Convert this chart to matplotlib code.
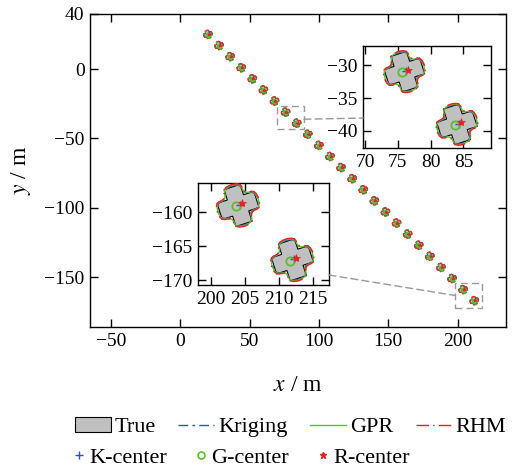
import numpy as np
import matplotlib
matplotlib.use("Agg")
import matplotlib.pyplot as plt
from matplotlib.path import Path
from matplotlib.patches import PathPatch, Polygon, Rectangle, ConnectionPatch
from matplotlib.lines import Line2D
from matplotlib.transforms import Affine2D

plt.rcParams['font.family'] = ['Liberation Serif', 'DejaVu Serif']
plt.rcParams['mathtext.fontset'] = 'stix'

# ---------------- data ----------------
# object centres along the trajectory (m)
center_x = [20, 28, 36, 44, 52, 60, 68, 76, 84, 92, 100, 108, 116, 124, 132,
            140, 148, 156, 164, 172, 180, 188, 196, 204, 212]
center_y = [25, 17, 9, 1, -7, -15, -23, -31, -39, -47, -55, -63, -71, -79, -87,
            -95, -103, -111, -119, -127, -135, -143, -151, -159, -167]

# true cross-shaped extent (local offsets, m)
true_dx = [1.25, 1.25, 2.85, 2.85, 1.25, 1.25, -1.25, -1.25, -2.85, -2.85, -1.25, -1.25]
true_dy = [2.85, 1.25, 1.25, -1.25, -1.25, -2.85, -2.85, -1.25, -1.25, 1.25, 1.25, 2.85]

# estimated extents: control polygons of the smooth contours (local offsets, m)
krig_dx = [1.3, 1.3, 3.0, 3.0, 1.3, 1.3, -1.3, -1.3, -3.0, -3.0, -1.3, -1.3]
krig_dy = [3.0, 1.3, 1.3, -1.3, -1.3, -3.0, -3.0, -1.3, -1.3, 1.3, 1.3, 3.0]
gpr_dx = [1.35, 1.35, 3.1, 3.1, 1.35, 1.35, -1.35, -1.35, -3.1, -3.1, -1.35, -1.35]
gpr_dy = [3.1, 1.35, 1.35, -1.35, -1.35, -3.1, -3.1, -1.35, -1.35, 1.35, 1.35, 3.1]
rhm_dx = [1.4, 1.4, 3.2, 3.2, 1.4, 1.4, -1.4, -1.4, -3.2, -3.2, -1.4, -1.4]
rhm_dy = [3.2, 1.4, 1.4, -1.4, -1.4, -3.2, -3.2, -1.4, -1.4, 1.4, 1.4, 3.2]

# estimated centre offsets (m)
kc_off = (0.3, 0.1)
gc_off = (-0.3, -0.1)
rc_off = (0.6, 0.3)

rot_deg = 18

# ---------------- styles ----------------
c_gray = '#c0c0c0'
c_blue = '#2a55b0'
c_green = '#5cbf2a'
c_red = '#ee1c25'
ls_krig = (0, (7, 3, 2, 3))
ls_rhm = (0, (9, 3, 1, 3))


def smooth_path(dx, dy):
    pts = np.column_stack([dx, dy])
    n = len(pts)
    mids = [(pts[i] + pts[(i + 1) % n]) / 2 for i in range(n)]
    verts = [mids[-1]]
    codes = [Path.MOVETO]
    for i in range(n):
        verts += [pts[i], mids[i]]
        codes += [Path.CURVE3, Path.CURVE3]
    return Path(np.array(verts), codes)


def draw_objects(ax, lw, ms):
    for cx, cy in zip(center_x, center_y):
        tr = Affine2D().rotate_deg(rot_deg).translate(cx, cy) + ax.transData
        poly = Polygon(np.column_stack([true_dx, true_dy]), closed=True,
                       facecolor=c_gray, edgecolor='black', lw=lw * 0.8,
                       transform=tr, zorder=2)
        ax.add_patch(poly)
        for dx, dy, col, ls in [(krig_dx, krig_dy, c_blue, ls_krig),
                                (gpr_dx, gpr_dy, c_green, '-'),
                                (rhm_dx, rhm_dy, c_red, ls_rhm)]:
            p = PathPatch(smooth_path(dx, dy), facecolor='none', edgecolor=col,
                          lw=lw, linestyle=ls, transform=tr, zorder=3)
            ax.add_patch(p)
    xs = np.array(center_x, float)
    ys = np.array(center_y, float)
    ax.plot(xs + kc_off[0], ys + kc_off[1], '+', color=c_blue, ms=ms, mew=1.0, zorder=4)
    ax.plot(xs + gc_off[0], ys + gc_off[1], 'o', mfc='none', mec=c_green, ms=ms, mew=1.3, zorder=4)
    ax.plot(xs + rc_off[0], ys + rc_off[1], '*', color=c_red, ms=ms, mew=0.5, zorder=5)


def style_axes(ax, size):
    ax.tick_params(direction='in', top=True, right=True, length=6, width=1,
                   labelsize=size, pad=4)
    for s in ax.spines.values():
        s.set_linewidth(1.0)


fig = plt.figure(figsize=(5.30, 4.72), dpi=100)

ax = fig.add_axes([0.170, 0.307, 0.785, 0.664])
ax.set_xlim(-65, 235)
ax.set_ylim(-186, 40)
draw_objects(ax, lw=0.7, ms=2.5)
ax.set_xticks([-50, 0, 50, 100, 150, 200])
ax.set_yticks([-150, -100, -50, 0, 40])
style_axes(ax, 14)
ax.set_xlabel('$x$ / m', fontsize=17, labelpad=18)
ax.set_ylabel('$y$ / m', fontsize=17, labelpad=8)

# inset 1
ax1 = fig.add_axes([0.685, 0.6864, 0.2415, 0.2161])
ax1.set_xlim(69.7, 89.2)
ax1.set_ylim(-42.6, -27.1)
draw_objects(ax1, lw=1.0, ms=6)
ax1.set_xticks([70, 75, 80, 85])
ax1.set_yticks([-40, -35, -30])
style_axes(ax1, 14)

# inset 2
ax2 = fig.add_axes([0.3736, 0.3962, 0.2472, 0.2161])
ax2.set_xlim(198.1, 217.4)
ax2.set_ylim(-170.7, -155.7)
draw_objects(ax2, lw=1.0, ms=6)
ax2.set_xticks([200, 205, 210, 215])
ax2.set_yticks([-170, -165, -160])
style_axes(ax2, 14)

# zoom boxes and connectors
gcol = '#999999'
for axi, pad in [(ax1, 0.6), (ax2, 1.5)]:
    x0, x1 = axi.get_xlim()
    y0, y1 = axi.get_ylim()
    ax.add_patch(Rectangle((x0, y0 - pad), x1 - x0, y1 - y0 + 2 * pad, fill=False,
                           edgecolor=gcol, lw=1.0, ls=(0, (5, 3)), zorder=6))

x0, x1 = ax1.get_xlim()
con1 = ConnectionPatch(xyA=(x1, -36.1), coordsA=ax.transData,
                       xyB=(0, 0.294), coordsB=ax1.transAxes,
                       color=gcol, lw=1.0, ls=(0, (5, 3)))
fig.add_artist(con1)
x0, x1 = ax2.get_xlim()
con2 = ConnectionPatch(xyA=(1.0, 0.098), coordsA=ax2.transAxes,
                       xyB=(x0, -163.2), coordsB=ax.transData,
                       color=gcol, lw=1.0, ls=(0, (5, 3)))
fig.add_artist(con2)

# legends
h1 = [Rectangle((0, 0), 1, 1, facecolor=c_gray, edgecolor='black', lw=0.8),
      Line2D([], [], color=c_blue, lw=1.0, ls=ls_krig),
      Line2D([], [], color=c_green, lw=1.0),
      Line2D([], [], color=c_red, lw=1.0, ls=ls_rhm)]
l1 = ['True', 'Kriging', 'GPR', 'RHM']
leg1 = fig.legend(h1, l1, loc='center left', bbox_to_anchor=(0.1415, 0.0953), ncol=4,
                  frameon=False, fontsize=16, handlelength=1.6, handletextpad=0.2,
                  columnspacing=1.0, borderpad=0, borderaxespad=0)
h2 = [Line2D([], [], color=c_blue, marker='+', ls='none', ms=6, mew=1.0),
      Line2D([], [], mec=c_green, mfc='none', marker='o', ls='none', ms=5, mew=1.2),
      Line2D([], [], color=c_red, marker='*', ls='none', ms=5)]
l2 = ['K-center', 'G-center', 'R-center']
leg2 = fig.legend(h2, l2, loc='center left', bbox_to_anchor=(0.139, 0.0297), ncol=3,
                  frameon=False, fontsize=16, handlelength=0.5, handletextpad=0.2,
                  columnspacing=1.3, borderpad=0, borderaxespad=0)

fig.savefig('out.png', dpi=100)
